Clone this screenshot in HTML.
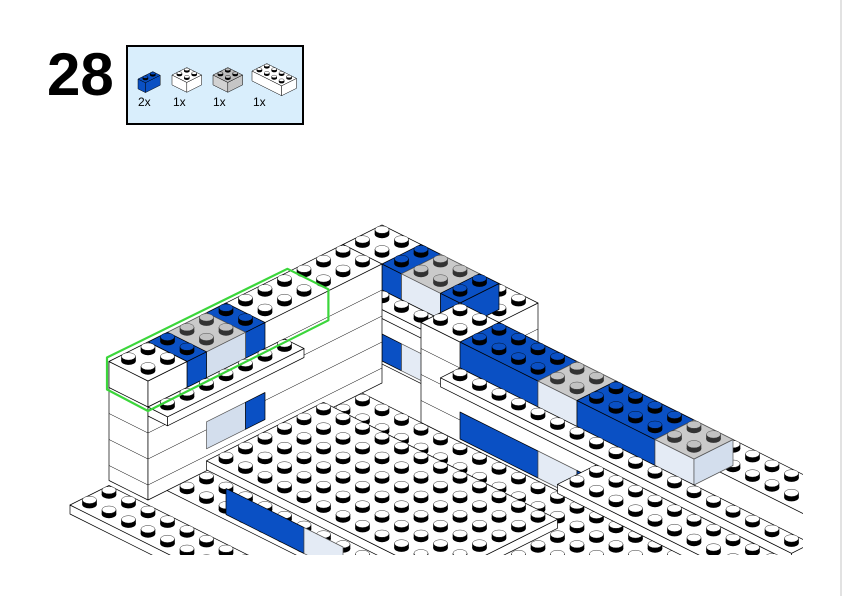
<!DOCTYPE html>
<html><head><meta charset="utf-8"><style>
html,body{margin:0;padding:0;background:#fff;width:842px;height:596px;overflow:hidden}
svg{position:absolute;left:0;top:0;display:block}
</style></head><body>
<svg id="sv" width="842" height="596" viewBox="0 0 842 596" xmlns="http://www.w3.org/2000/svg">
<rect x="840" y="0" width="2" height="596" fill="#e2e2e2"/>
<text x="47" y="95" font-family="Liberation Sans, sans-serif" font-weight="bold" font-size="60">28</text>
<rect x="127" y="46" width="176" height="78" fill="#d9eefc" stroke="#000" stroke-width="2"/>
<g font-family="Liberation Sans, sans-serif" font-size="12" fill="#000">
<text x="138" y="106">2x</text><text x="173" y="106">1x</text><text x="213" y="106">1x</text><text x="253" y="106">1x</text>
</g>
<defs><clipPath id="cp"><rect x="0" y="0" width="803" height="555"/></clipPath></defs>
<g id="model" clip-path="url(#cp)"></g>
<g id="icons"></g>
</svg>
<script>
var C={
 w:{t:'#fff',l:'#fff',f:'#fff',st:'#fff',sb:'#000',ln:'#000'},
 b:{t:'#0a50c4',l:'#0a50c4',f:'#0a50c4',st:'#0a50c4',sb:'#000',ln:'#000'},
 tr:{t:'#cacaca',l:'#e4ebf5',f:'#d3deed',st:'#c2c2c2',sb:'#333',ln:'#555'},
 g:{t:'#bdbdbd',l:'#d2d2d2',f:'#c5c5c5',st:'#bdbdbd',sb:'#000',ln:'#000'}
};
function mk(o,s){
 function P(u,v,z){return [o[0]+s*19.5*(u+v), o[1]+s*9.75*(v-u)-s*z];}
 function poly(pts,fill,ln){return '<polygon points="'+pts.map(function(p){return p[0].toFixed(1)+','+p[1].toFixed(1)}).join(' ')+'" fill="'+fill+'" stroke="'+ln+'" stroke-width="'+(0.7*Math.max(s,0.7))+'" stroke-linejoin="round"/>';}
 function stud(x,y,c){
  var rx=7.3*s,ry=3.9*s,h=4.6*s,o='';
  o+='<ellipse cx="'+x+'" cy="'+(y-0.5*s)+'" rx="'+rx+'" ry="'+ry+'" fill="'+c.sb+'"/>';
  o+='<rect x="'+(x-rx)+'" y="'+(y-h-0.5*s)+'" width="'+(2*rx)+'" height="'+h+'" fill="'+c.sb+'"/>';
  o+='<ellipse cx="'+x+'" cy="'+(y-h-0.5*s)+'" rx="'+(rx-0.3)+'" ry="'+(ry-0.2)+'" fill="'+c.st+'" stroke="'+c.sb+'" stroke-width="0.4"/>';
  return o;
 }
 function box(u0,u1,v0,v1,zb,zt,c,studs,faces,courses){
  c=C[c];faces=faces||'tlf';var o='';
  if(faces.indexOf('l')>=0){o+=poly([P(u0,v0,zt),P(u0,v1,zt),P(u0,v1,zb),P(u0,v0,zb)],c.l,c.ln);
   if(courses){for(var z=zt-26;z>zb+2;z-=26){var a=P(u0,v0,z),b=P(u0,v1,z);o+='<line x1="'+a[0]+'" y1="'+a[1]+'" x2="'+b[0]+'" y2="'+b[1]+'" stroke="#000" stroke-width="0.5"/>';}}}
  if(faces.indexOf('f')>=0){o+=poly([P(u0,v1,zt),P(u1,v1,zt),P(u1,v1,zb),P(u0,v1,zb)],c.f,c.ln);
   if(courses){for(var z=zt-26;z>zb+2;z-=26){var a=P(u0,v1,z),b=P(u1,v1,z);o+='<line x1="'+a[0]+'" y1="'+a[1]+'" x2="'+b[0]+'" y2="'+b[1]+'" stroke="#000" stroke-width="0.5"/>';}}}
  if(faces.indexOf('t')>=0){o+=poly([P(u0,v0,zt),P(u1,v0,zt),P(u1,v1,zt),P(u0,v1,zt)],c.t,c.ln);}
  if(studs){var L=[];for(var i=Math.ceil(u0);i<u1-0.01;i++)for(var j=Math.ceil(v0);j<v1-0.01;j++){L.push(P(i+0.5,j+0.5,zt));}
   L.sort(function(a,b){return a[1]-b[1]});L.forEach(function(p){o+=stud(p[0].toFixed(1),p[1].toFixed(1),c);});}
  return o;
 }
 return {P:P,box:box};
}
var M=mk([382,225],1),h='';
var B=M.box;
// back wall
h+=B(-2,0,0,8,-100,0,'w',true,'tlf',true);
h+=B(-2,0,2,3,-26,0,'b',true);
h+=B(-2,0,3,5,-26,0,'tr',true);
h+=B(-2,0,5,6,-26,0,'b',true);
h+=B(-2,0,2,3,-97,-70,'b',false,'l');
h+=B(-2,0,3,5,-97,-70,'tr',false,'l');
h+=B(-3,-2,2,6,-35,-26,'w',true);
// interior floor
h+=B(-14,-4,2,24,-110,-100,'w',true,'t');
// left wall
h+=B(-14,-2,0,2,-119,0,'w',true,'tlf',true);
h+=B(-9,-8,0,2,-26,0,'b',true);
h+=B(-11,-9,0,2,-26,0,'tr',true);
h+=B(-12,-11,0,2,-26,0,'b',true);
h+=B(-14,-12,0,2,-26,0,'w',true);
h+=B(-11,-9,0,2,-97,-70,'tr',false,'f');
h+=B(-9,-8,0,2,-97,-70,'b',false,'f');
h+=B(-14,-7,2,3,-35,-26,'w',true);
// right wall
h+=B(-4,-2,6,26,-100,0,'w',true,'tlf',true);
[[8,12,'b'],[12,14,'tr'],[14,18,'b'],[18,20,'tr']].forEach(function(q){h+=B(-4,-2,q[0],q[1],-26,0,q[2],true);});
[[8,12,'b'],[12,14,'tr'],[14,18,'b'],[18,20,'tr'],[20,26,'b']].forEach(function(q){h+=B(-4,-2,q[0],q[1],-97,-70,q[2],false,'l');});
h+=B(-5,-4,8,26,-35,-26,'w',true);
// front plate
h+=B(-13,-7,4,16,-79,-70,'w',true);
h+=B(-13,-12,5,9,-114,-88,'b',false,'l');
h+=B(-13,-12,9,11,-114,-88,'tr',false,'l');
h+=B(-7,-5,16,26,-44,-35,'w',true);
// bottom-left plate
h+=B(-20,-18,4,22,-55,-46,'w',true);
// green outline
var g=[M.P(-14,0,4),M.P(-4.9,0,4),M.P(-4.9,2,3),M.P(-4.9,2,-28),M.P(-14,2,-30),M.P(-14,0,-28)];
g[0][0]-=2;g[5][0]-=2;g[1][0]+=1;g[2][0]+=3;g[3][0]+=3;
h+='<polygon points="'+g.map(function(p){return p[0].toFixed(1)+','+p[1].toFixed(1)}).join(' ')+'" fill="none" stroke="#3bd63b" stroke-width="2.2" stroke-linejoin="round"/>';
document.getElementById('model').innerHTML=h;
// icons
var ic='';
var s=0.38;
ic+=mk([138,79],s).box(0,2,0,1,-26,0,'b',true);
ic+=mk([172,75],s).box(0,2,0,2,-26,0,'w',true);
ic+=mk([213,75],s).box(0,2,0,2,-26,0,'g',true);
ic+=mk([252,71],s).box(0,2,0,4,-26,0,'w',true);
document.getElementById('icons').innerHTML=ic;
</script>
</body></html>
